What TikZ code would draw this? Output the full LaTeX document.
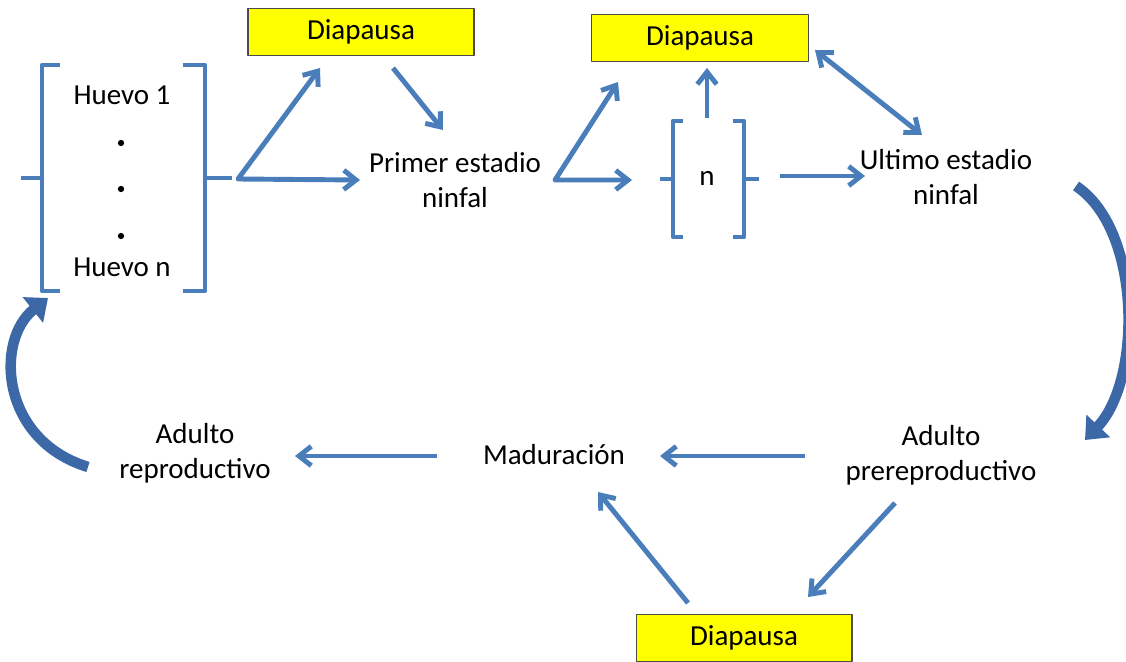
\documentclass[tikz,border=0pt]{standalone}
\usepackage{fontspec}
\setmainfont{Carlito}
\usetikzlibrary{arrows.meta,calc}
\definecolor{azul}{RGB}{74,126,187}
\definecolor{azulosc}{RGB}{60,104,168}
\definecolor{amarillo}{RGB}{255,255,0}
\begin{document}
\begin{tikzpicture}[x=0.02cm,y=-0.02cm,line join=round,
	>={Straight Barb[length=7pt,width=11pt]},
	font=\fontsize{16.5}{20}\selectfont,
	flecha/.style={draw=azul,line width=2.8pt,->},
	doble/.style={draw=azul,line width=2.8pt,<->},
	llave/.style={draw=azul,line width=2.6pt},
	curva/.style={draw=azulosc,line width=6pt,-{Triangle[length=11pt,width=18pt]}},
	caja/.style={draw=black!70,line width=0.6pt,fill=amarillo,minimum height=0.95cm},
	txt/.style={align=center,inner sep=0pt}]
		\useasboundingbox (0,0) rectangle (1126,662);
		% cajas de diapausa
		\node[caja,minimum width=4.52cm] (dia1) at (361,32) {Diapausa};
		\node[caja,minimum width=4.34cm] (dia2) at (700,38) {Diapausa};
		\node[caja,minimum width=4.32cm] (dia3) at (744,638) {Diapausa};
		% estadios
		\coordinate (hue) at (123,179);
		\node[txt] (hue1) at (122,95) {Huevo 1};
		\node[txt] (huen) at (122,267) {Huevo n};
		\foreach \y in {143,189,236} \fill (121,\y) circle (1.8pt);
		\node[txt] (pri) at (455,180) {Primer estadio\\ninfal};
		\node[txt] (nn) at (707,178) {n};
		\node[txt] (ult) at (946,177) {Ultimo estadio\\ninfal};
		\node[txt] (apre) at (941,455) {Adulto\\prereproductivo};
		\node[txt] (mad) at (554,455) {Maduración};
		\node[txt] (arep) at (195,453) {Adulto\\reproductivo};
		% llaves
		\draw[llave] (60,65)--(42,65)--(42,291)--(60,291) (21,178)--(42,178);
		\draw[llave] (183,65)--(205,65)--(205,291)--(183,291) (205,178)--(232,178);
		\draw[llave] (683,121)--(673,121)--(673,237)--(683,237) (660,179)--(673,179);
		\draw[llave] (733,121)--(744,121)--(744,237)--(733,237) (744,179)--(759,179);
		% flechas
		\coordinate (fk1) at (238,179);
		\coordinate (fk2) at (555,180);
		\draw[doble] ($(dia1)+(-41,36)$) -- (fk1) -- ($(pri)+(-95,0)$);
		\draw[flecha] ($(dia1)+(32,36)$) -- ($(pri)+(-12,-50)$);
		\draw[doble] ($(dia2)+(-82,44)$) -- (fk2) -- ($(nn)+(-75,2)$);
		\draw[flecha] ($(nn)+(0,-60)$) -- ($(dia2)+(7,30)$);
		\draw[flecha] ($(nn)+(73,-2)$) -- ($(ult)+(-81,-1)$);
		\draw[doble] ($(dia2)+(115,12)$) -- ($(ult)+(-24,-42)$);
		\draw[flecha] ($(apre)+(-136,1)$) -- ($(mad)+(106,1)$);
		\draw[flecha] ($(mad)+(-117,1)$) -- ($(arep)+(100,3)$);
		\draw[flecha] ($(apre)+(-46,48)$) -- ($(dia3)+(64,-41)$);
		\draw[flecha] ($(dia3)+(-56,-35)$) -- ($(mad)+(44,37)$);
		\draw[curva] ($(ult)+(130,9)$) .. controls (1142,230) and (1142,380) .. ($(apre)+(144,-15)$);
		\draw[curva] ($(arep)+(-107,14)$) .. controls (0,440) and (-5,340) .. ($(hue)+(-75,119)$);
\end{tikzpicture}
\end{document}
